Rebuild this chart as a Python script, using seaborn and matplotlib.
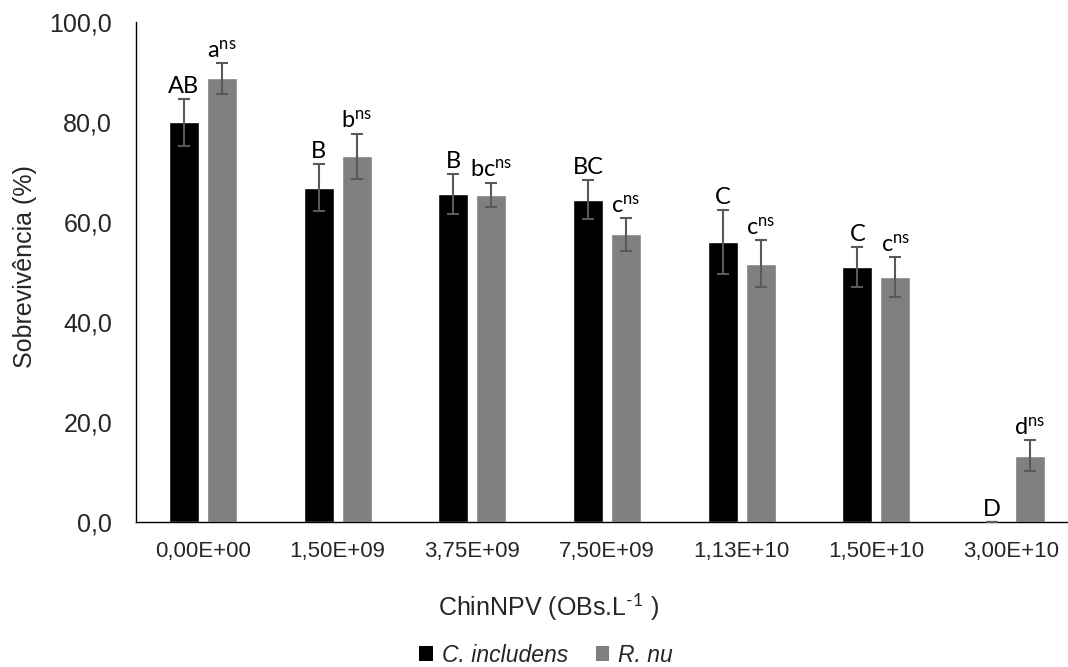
import matplotlib
matplotlib.use("Agg")
import matplotlib.pyplot as plt
from matplotlib.patches import Patch
import pandas as pd
import seaborn as sns

# ------------------------------------------------------------------
# Data
# ------------------------------------------------------------------
doses = ["0,00E+00", "1,50E+09", "3,75E+09", "7,50E+09", "1,13E+10", "1,50E+10", "3,00E+10"]
species = ["C. includens", "R. nu"]

surv_cinc = [80.0, 66.9, 65.7, 64.5, 56.1, 51.0, 0.0]
err_cinc = [4.7, 4.7, 4.0, 3.9, 6.4, 4.0, 0.0]
lbl_cinc = ["AB", "B", "B", "BC", "C", "C", "D"]

surv_rnu = [88.8, 73.2, 65.5, 57.6, 51.7, 49.0, 13.2]
err_rnu = [3.1, 4.5, 2.4, 3.3, 4.7, 4.0, 3.1]
lbl_rnu = ["a", "b", "bc", "c", "c", "c", "d"]

colors = ["#000000", "#808080"]

df = pd.DataFrame({
    "dose": doses * 2,
    "species": [species[0]] * len(doses) + [species[1]] * len(doses),
    "surv": surv_cinc + surv_rnu,
})

sns.set_style("white")
plt.rcParams["font.family"] = ["Liberation Sans", "DejaVu Sans"]
plt.rcParams["mathtext.fontset"] = "custom"
plt.rcParams["mathtext.rm"] = "Lato"
plt.rcParams["mathtext.it"] = "Lato:italic"

fig = plt.figure(figsize=(10.68, 6.67), dpi=100)
ax = fig.add_axes([0.127, 0.2174, 0.8827, 0.7496])

sns.barplot(data=df, x="dose", y="surv", hue="species", order=doses,
            hue_order=species, palette=colors, width=0.564, gap=0.21,
            errorbar=None, legend=False, ax=ax, saturation=1)

# error bars + significance letters
bars = ax.patches
n = len(doses)
for k, (vals, errs, lbls, sup) in enumerate([(surv_cinc, err_cinc, lbl_cinc, False),
                                             (surv_rnu, err_rnu, lbl_rnu, True)]):
    for i in range(n):
        b = bars[k * n + i]
        xc = b.get_x() + b.get_width() / 2
        ax.errorbar(xc, vals[i], yerr=errs[i], fmt="none", ecolor="#595959",
                    elinewidth=1.5, capsize=4, capthick=1.5, zorder=3)
        txt = lbls[i]
        if sup:
            txt = r"$\mathrm{%s}^{\mathrm{ns}}$" % txt
        ax.annotate(txt, (xc, vals[i] + errs[i]), xytext=(0, 4),
                    textcoords="offset points", ha="center", va="baseline",
                    fontsize=17, family="Lato", color="black")

ax.set_xlim(-0.5, n - 0.5)
ax.set_ylim(0, 100)
ax.set_yticks([0, 20, 40, 60, 80, 100])
ax.set_yticklabels(["0,0", "20,0", "40,0", "60,0", "80,0", "100,0"])
ax.tick_params(axis="y", length=0, pad=17, labelsize=18)
ax.tick_params(axis="x", length=0, pad=14, labelsize=16)
ax.set_xlabel("")
ax.set_ylabel("")

for s in ["top", "right"]:
    ax.spines[s].set_visible(False)
ax.spines["left"].set_color("#000000")
ax.spines["bottom"].set_color("#000000")
ax.spines["left"].set_linewidth(1.0)
ax.spines["bottom"].set_linewidth(1.0)

fig.text(0.0234, 0.601, "Sobrevivência (%)", rotation=90, ha="center", va="center",
         fontsize=18)
fig.text(548 / 1068, 1 - 607 / 667, r"ChinNPV (OBs.L$^{\text{-1}}$ )", ha="center",
         va="center", fontsize=18)

handles = [Patch(facecolor=c, edgecolor="none") for c in colors]
fig.legend(handles, species, loc="center", bbox_to_anchor=(546 / 1068, 1 - 655 / 667),
           ncol=2, frameon=False, prop={"size": 16.5, "style": "italic"},
           handlelength=0.6, handleheight=0.6, handletextpad=0.4, columnspacing=1.2)

plt.savefig("out.png", dpi=100)
plt.close()
